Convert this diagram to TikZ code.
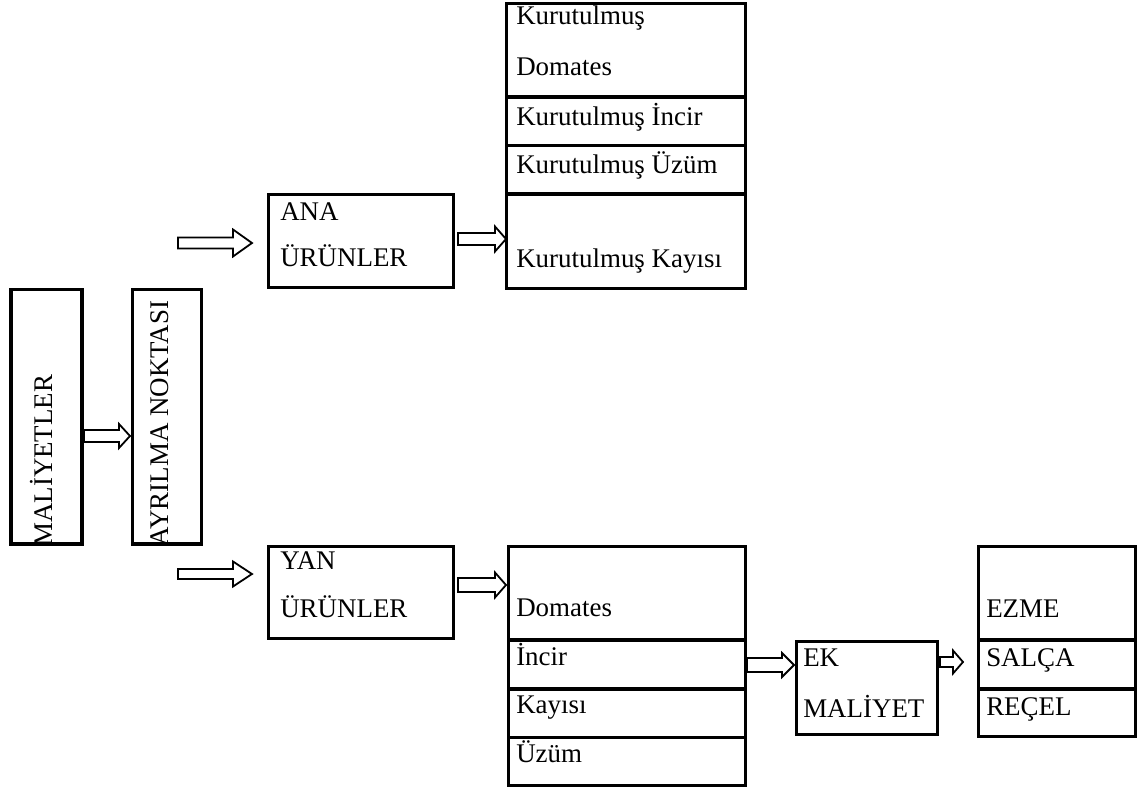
\documentclass[tikz,border=0pt]{standalone}
\usepackage{fontspec}
\setmainfont{Liberation Serif}
\usetikzlibrary{fit}
\tikzset{
  box/.style={draw, line width=2.3pt, inner sep=0pt},
  txt/.style={inner sep=0pt, anchor=base west, font=\fontsize{20.2pt}{23pt}\selectfont},
  fatarrow/.style={draw, line width=1.35pt, fill=white, line join=miter},
}
% #1 x0, #2 head base x, #3 tip x, #4 centre y, #5 shaft half, #6 head half
\newcommand\blockarrow[6]{%
  \draw[fatarrow] (#1,#4-#5) -- (#2,#4-#5) -- (#2,#4-#6) -- (#3,#4) -- (#2,#4+#6) -- (#2,#4+#5) -- (#1,#4+#5) -- cycle;}
\begin{document}
\begin{tikzpicture}[x=0.75pt,y=-0.75pt]
\useasboundingbox (0,0) rectangle (1140,792);
% left vertical boxes
\node[box, fit={(11,289.5)(82,544)}] (mal) {};
\node[box, fit={(132.5,289.5)(201.5,544)}] (ayr) {};
\node[txt, rotate=90] (maltxt) at (52,547) {MALİYETLER};
\node[txt, rotate=90] (ayrtxt) at (168,547) {AYRILMA NOKTASI};
% upper branch
\node[box, fit={(268.5,194.5)(453.5,287.5)}] (ana) {};
\node[txt] (anat1) at (280,220) {ANA};
\node[txt] (anat2) at (280,266) {ÜRÜNLER};
\node[box, fit={(506.5,3.5)(745.5,97)}] (t1) {};
\node[box, fit={(506.5,97)(745.5,145.5)}] (t2) {};
\node[box, fit={(506.5,145.5)(745.5,194)}] (t3) {};
\node[box, fit={(506.5,194)(745.5,288.5)}] (t4) {};
\node[txt] (t1a) at (516,25) {Kurutulmuş};
\node[txt] (t1b) at (516,76) {Domates};
\node[txt] (t2a) at (516,126) {Kurutulmuş İncir};
\node[txt] (t3a) at (516,174) {Kurutulmuş Üzüm};
\node[txt] (t4a) at (516,267) {Kurutulmuş Kayısı};
% lower branch
\node[box, fit={(268.5,546.5)(453.5,638.5)}] (yan) {};
\node[txt] (yant1) at (280,569) {YAN};
\node[txt] (yant2) at (280,617) {ÜRÜNLER};
\node[box, fit={(508.5,546.5)(745.5,640)}] (b1) {};
\node[box, fit={(508.5,640)(745.5,689)}] (b2) {};
\node[box, fit={(508.5,689)(745.5,737.5)}] (b3) {};
\node[box, fit={(508.5,737.5)(745.5,785.5)}] (b4) {};
\node[txt] (b1a) at (516,616) {Domates};
\node[txt] (b2a) at (516,665) {İncir};
\node[txt] (b3a) at (516,713) {Kayısı};
\node[txt] (b4a) at (516,762) {Üzüm};
\node[box, fit={(796.5,641.5)(937.5,734.5)}] (ek) {};
\node[txt] (ekt1) at (803,666) {EK};
\node[txt] (ekt2) at (803,717) {MALİYET};
\node[box, fit={(978.5,546.5)(1135.5,640)}] (r1) {};
\node[box, fit={(978.5,640)(1135.5,689)}] (r2) {};
\node[box, fit={(978.5,689)(1135.5,736.5)}] (r3) {};
\node[txt] (r1a) at (986,617) {EZME};
\node[txt] (r2a) at (986,666) {SALÇA};
\node[txt] (r3a) at (986,715) {REÇEL};
% block arrows
\blockarrow{84}{119}{130}{436}{6}{12}
\blockarrow{178}{233}{252}{243}{5.5}{13.5}
\blockarrow{458}{495}{506}{239}{6}{12.5}
\blockarrow{178}{233}{252}{574}{5}{12.5}
\blockarrow{458}{495}{506}{585}{7}{12.5}
\blockarrow{747}{782}{794}{665}{7}{12}
\blockarrow{940}{953}{963}{662}{5}{11.5}
\end{tikzpicture}
\end{document}
